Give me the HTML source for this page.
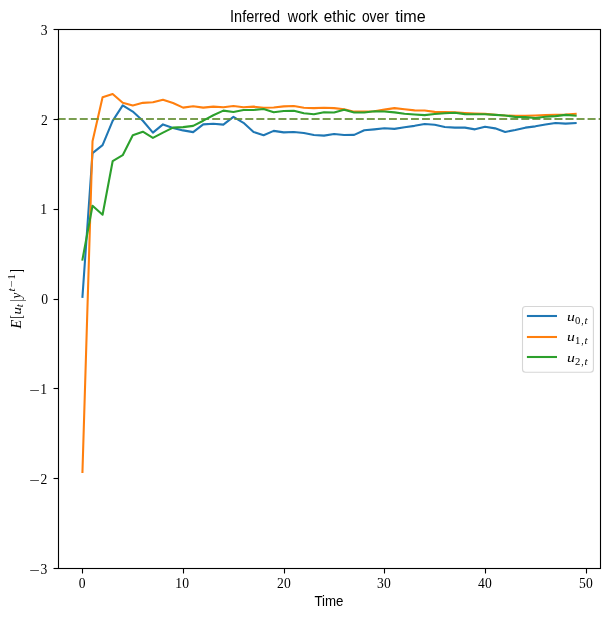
<!DOCTYPE html>
<html><head><meta charset="utf-8"><title>Inferred work ethic over time</title>
<style>
html,body{margin:0;padding:0;background:#fff;}
svg{display:block;}
.serif{font-family:"Liberation Serif",serif;}
.sans{font-family:"Liberation Sans",sans-serif;}
</style></head><body>
<svg width="610" height="618" viewBox="0 0 610 618">
<rect width="610" height="618" fill="#fff"/>
<g fill="none" stroke-width="2.08" stroke-linejoin="round" stroke-linecap="square">
<polyline stroke="#1f77b4" points="82.45,296.80 92.52,153.10 102.58,145.10 112.65,120.90 122.71,105.40 132.78,111.60 142.84,120.80 152.91,132.60 162.97,124.40 173.03,128.00 183.10,130.40 193.16,132.10 203.23,124.40 213.30,123.70 223.36,124.60 233.43,116.85 243.49,122.80 253.56,132.00 263.62,135.20 273.69,130.90 283.75,132.40 293.81,132.00 303.88,133.00 313.94,135.00 324.01,135.60 334.07,134.00 344.14,135.05 354.20,134.85 364.27,130.25 374.33,129.35 384.40,128.25 394.46,128.85 404.53,127.25 414.59,125.85 424.66,123.95 434.72,124.75 444.79,126.95 454.85,127.65 464.92,127.65 474.98,129.35 485.05,126.75 495.11,128.35 505.18,131.95 515.25,129.95 525.31,127.65 535.38,126.35 545.44,124.50 555.50,122.95 565.57,123.65 575.63,123.05"/>
<line x1="57.8" x2="600.3" y1="119" y2="119" stroke="#1f77b4" stroke-opacity="0.5" stroke-width="2.08" stroke-linecap="butt" stroke-dasharray="7.71 3.33"/>
<polyline stroke="#ff7f0e" points="82.45,472.00 92.52,141.30 102.58,97.30 112.65,94.00 122.71,102.80 132.78,105.50 142.84,102.85 152.91,102.30 162.97,99.85 173.03,103.05 183.10,107.65 193.16,106.25 203.23,107.60 213.30,106.60 223.36,107.30 233.43,105.95 243.49,107.20 253.56,106.65 263.62,107.70 273.69,107.55 283.75,106.40 293.81,106.00 303.88,107.70 313.94,108.10 324.01,107.80 334.07,108.10 344.14,109.30 354.20,111.65 364.27,111.65 374.33,111.25 384.40,109.65 394.46,108.10 404.53,109.25 414.59,110.35 424.66,110.55 434.72,111.85 444.79,112.15 454.85,112.35 464.92,112.95 474.98,113.50 485.05,113.85 495.11,114.75 505.18,115.55 515.25,115.85 525.31,115.80 535.38,115.50 545.44,115.10 555.50,114.80 565.57,114.55 575.63,113.85"/>
<line x1="57.8" x2="600.3" y1="119" y2="119" stroke="#ff7f0e" stroke-opacity="0.5" stroke-width="2.08" stroke-linecap="butt" stroke-dasharray="7.71 3.33"/>
<polyline stroke="#2ca02c" points="82.45,259.60 92.52,205.70 102.58,214.70 112.65,161.20 122.71,155.20 132.78,135.20 142.84,131.70 152.91,137.90 162.97,132.60 173.03,127.60 183.10,127.10 193.16,125.85 203.23,120.70 213.30,115.25 223.36,110.65 233.43,111.95 243.49,110.00 253.56,109.95 263.62,109.05 273.69,112.20 283.75,111.00 293.81,110.80 303.88,113.30 313.94,114.30 324.01,112.25 334.07,112.55 344.14,109.70 354.20,112.55 364.27,112.55 374.33,111.25 384.40,111.45 394.46,112.35 404.53,113.75 414.59,114.45 424.66,115.10 434.72,114.05 444.79,113.20 454.85,112.80 464.92,114.15 474.98,114.25 485.05,114.25 495.11,114.90 505.18,115.55 515.25,116.85 525.31,117.15 535.38,117.95 545.44,116.80 555.50,116.10 565.57,114.90 575.63,115.75"/>
<line x1="57.8" x2="600.3" y1="119" y2="119" stroke="#2ca02c" stroke-opacity="0.5" stroke-width="2.08" stroke-linecap="butt" stroke-dasharray="7.71 3.33"/>
</g>
<rect x="58.5" y="29.5" width="542.0" height="539.0" fill="none" stroke="#000" stroke-width="1.11"/>
<g stroke="#000" stroke-width="1.11">
<line x1="82.5" x2="82.5" y1="568.5" y2="573.50"/>
<line x1="183.5" x2="183.5" y1="568.5" y2="573.50"/>
<line x1="284.5" x2="284.5" y1="568.5" y2="573.50"/>
<line x1="384.5" x2="384.5" y1="568.5" y2="573.50"/>
<line x1="485.5" x2="485.5" y1="568.5" y2="573.50"/>
<line x1="586.5" x2="586.5" y1="568.5" y2="573.50"/>
<line x1="53.50" x2="58.5" y1="568.5" y2="568.5"/>
<line x1="53.50" x2="58.5" y1="478.5" y2="478.5"/>
<line x1="53.50" x2="58.5" y1="388.5" y2="388.5"/>
<line x1="53.50" x2="58.5" y1="299.5" y2="299.5"/>
<line x1="53.50" x2="58.5" y1="209.5" y2="209.5"/>
<line x1="53.50" x2="58.5" y1="119.5" y2="119.5"/>
<line x1="53.50" x2="58.5" y1="29.5" y2="29.5"/>
</g>
<g class="serif" font-size="13.6" fill="#000">
<text x="82.1" y="587.6" text-anchor="middle">0</text>
<text x="182.2" y="587.6" text-anchor="middle" textLength="13.8" lengthAdjust="spacing">10</text>
<text x="283.9" y="587.6" text-anchor="middle" textLength="13.8" lengthAdjust="spacing">20</text>
<text x="383.9" y="587.6" text-anchor="middle" textLength="13.8" lengthAdjust="spacing">30</text>
<text x="484.9" y="587.6" text-anchor="middle" textLength="13.8" lengthAdjust="spacing">40</text>
<text x="585.9" y="587.6" text-anchor="middle" textLength="13.8" lengthAdjust="spacing">50</text>
<text transform="translate(29.3,574.6) scale(1.38,1)">−</text><text x="47.2" y="573.8" text-anchor="end">3</text>
<text transform="translate(29.3,484.6) scale(1.38,1)">−</text><text x="47.2" y="483.8" text-anchor="end">2</text>
<text transform="translate(29.3,394.6) scale(1.38,1)">−</text><text x="47.0" y="393.8" text-anchor="end">1</text>
<text x="48.0" y="303.8" text-anchor="end">0</text>
<text x="47.0" y="213.8" text-anchor="end">1</text>
<text x="47.9" y="124.8" text-anchor="end">2</text>
<text x="47.6" y="34.7" text-anchor="end">3</text>
</g>
<text class="sans" font-size="15.8" y="21.6"><tspan x="230.05" textLength="49.94" lengthAdjust="spacingAndGlyphs">Inferred</tspan> <tspan x="287.85" textLength="30.08" lengthAdjust="spacingAndGlyphs">work</tspan> <tspan x="323.85" textLength="32.03" lengthAdjust="spacingAndGlyphs">ethic</tspan> <tspan x="361.91" textLength="26.84" lengthAdjust="spacingAndGlyphs">over</tspan> <tspan x="395.17" textLength="30.48" lengthAdjust="spacingAndGlyphs">time</tspan></text>
<text class="sans" font-size="13.9" x="314.49" y="605.8" textLength="29.02" lengthAdjust="spacingAndGlyphs">Time</text>
<g transform="translate(21.0,328.5) rotate(-90)" class="serif" fill="#000">
<text font-size="14.2" font-style="italic" x="0.1" y="0">E</text><text font-size="13.8" transform="translate(9.9,1.3) scale(0.75,1.21)">[</text><text font-size="13.0" font-style="italic" transform="translate(13.9,0) scale(1.15,1)">u</text><text font-size="9.7" font-style="italic" transform="translate(21.3,2.0) scale(1.15,1)">t</text><text font-size="13.8" transform="translate(26.95,1.3) scale(0.75,1.21)">|</text><text font-size="13.8" font-style="italic" transform="translate(30.0,0) scale(0.95,1)">y</text><text font-size="9.7" font-style="italic" transform="translate(37.0,-6.3) scale(1.2,1.05)">t</text><text font-size="9.7" transform="translate(41.0,-6.3) scale(1.3,1)">−</text><text font-size="9.7" transform="translate(49.0,-6.3) scale(1.1,1.05)">1</text><text font-size="13.8" transform="translate(55.7,1.3) scale(0.75,1.21)">]</text>
</g>
<rect x="522.5" y="306.5" width="70.9" height="65.8" rx="3" ry="3" fill="#fff" fill-opacity="0.8" stroke="#cccccc" stroke-opacity="0.8" stroke-width="1.11"/>
<line x1="527.95" x2="555.95" y1="316" y2="316" stroke="#1f77b4" stroke-width="2.08" stroke-linecap="square"/>
<g class="serif" fill="#000"><text font-size="12.4" font-style="italic" transform="translate(566.9,320.7) scale(1.27,1)">u</text><text font-size="9.7" transform="translate(574.9,323.7) scale(1.1,1)">0</text><text font-size="9.7" x="581.2" y="323.7">,</text><text font-size="9.7" font-style="italic" transform="translate(584.5,323.7) scale(1.15,1.05)">t</text></g>
<line x1="527.95" x2="555.95" y1="337" y2="337" stroke="#ff7f0e" stroke-width="2.08" stroke-linecap="square"/>
<g class="serif" fill="#000"><text font-size="12.4" font-style="italic" transform="translate(566.9,340.7) scale(1.27,1)">u</text><text font-size="9.7" transform="translate(574.9,343.7) scale(1.1,1)">1</text><text font-size="9.7" x="581.2" y="343.7">,</text><text font-size="9.7" font-style="italic" transform="translate(584.5,343.7) scale(1.15,1.05)">t</text></g>
<line x1="527.95" x2="555.95" y1="357" y2="357" stroke="#2ca02c" stroke-width="2.08" stroke-linecap="square"/>
<g class="serif" fill="#000"><text font-size="12.4" font-style="italic" transform="translate(566.9,361.7) scale(1.27,1)">u</text><text font-size="9.7" transform="translate(574.9,364.7) scale(1.1,1)">2</text><text font-size="9.7" x="581.2" y="364.7">,</text><text font-size="9.7" font-style="italic" transform="translate(584.5,364.7) scale(1.15,1.05)">t</text></g>
</svg>
</body></html>
